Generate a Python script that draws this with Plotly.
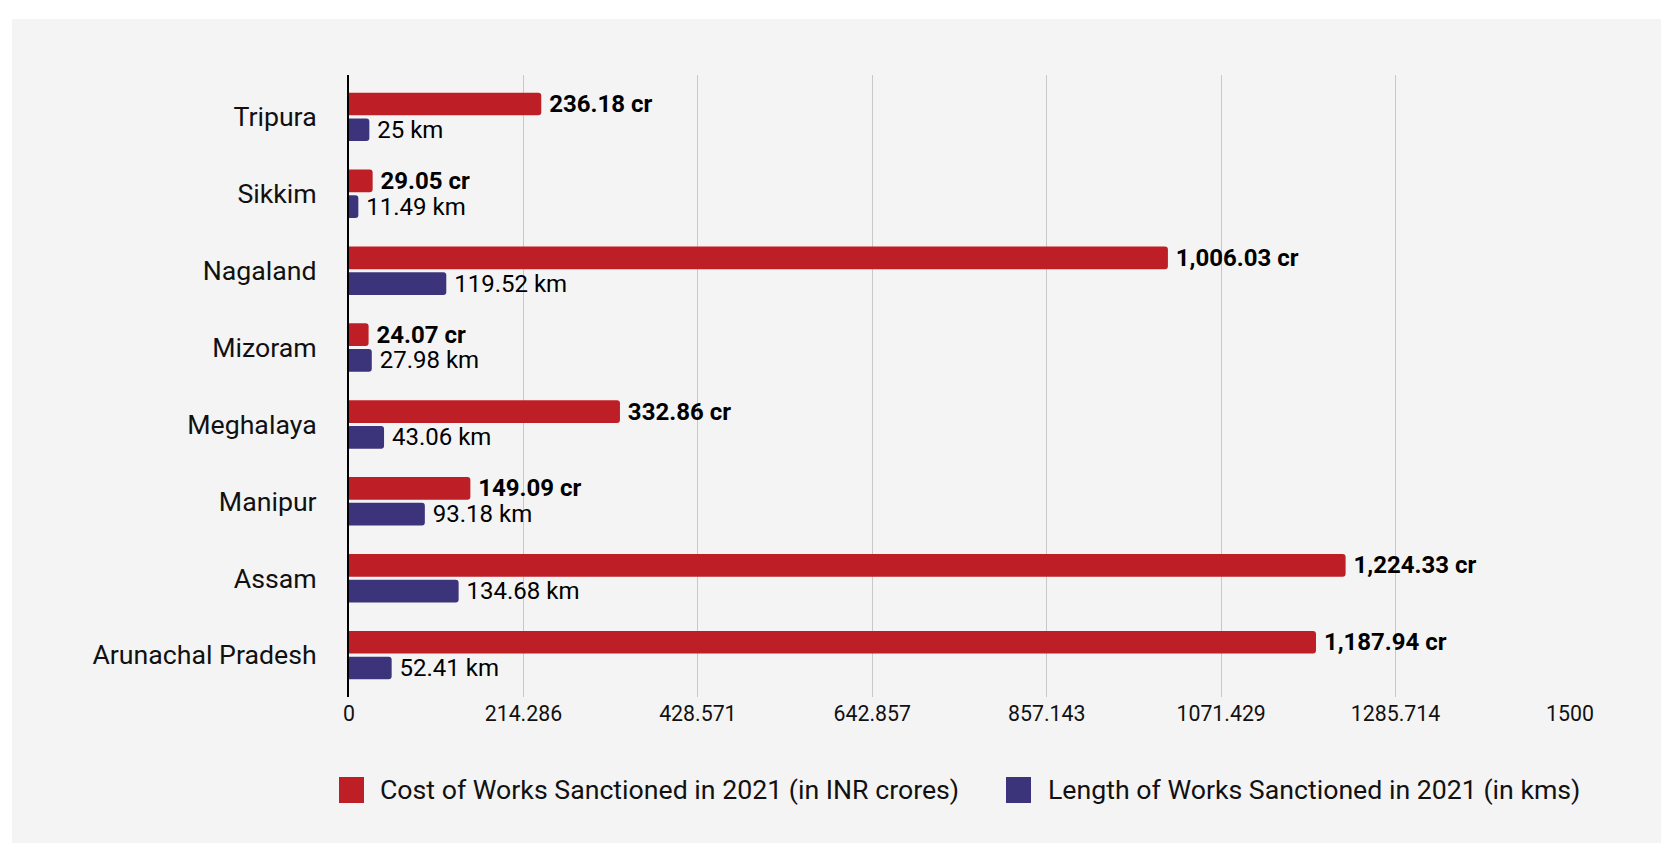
import plotly.graph_objects as go

states = ["Tripura", "Sikkim", "Nagaland", "Mizoram", "Meghalaya", "Manipur", "Assam", "Arunachal Pradesh"]
cost_cr = [236.18, 29.05, 1006.03, 24.07, 332.86, 149.09, 1224.33, 1187.94]
length_km = [25, 11.49, 119.52, 27.98, 43.06, 93.18, 134.68, 52.41]
x_tickvals = [0, 214.286, 428.571, 642.857, 857.143, 1071.429, 1285.714, 1500]
x_ticktext = ["0", "214.286", "428.571", "642.857", "857.143", "1071.429", "1285.714", "1500"]
series_names = ["Cost of Works Sanctioned in 2021 (in INR crores)",
                "Length of Works Sanctioned in 2021 (in kms)"]

RED = "#BE1E26"
BLUE = "#3C347B"
PANEL = "#F4F4F4"
FONT = "Roboto"

OFF = 8  # page body margin
W, H = 1669 - OFF, 843 - OFF
# plot area in page pixels: x 349..1570, y 75..697
L = 349 - OFF
R = W - (1570 - OFF)
T = 75 - OFF
B = H - (697 - OFF)
pw, ph = W - L - R, H - T - B


def px_x(p):  # page pixel -> paper x
    return (p - OFF - L) / pw


def px_y(p):  # page pixel -> paper y
    return (H - B - (p - OFF)) / ph


cost_text = [f"\u2009<b>{v:,.2f} cr</b>" for v in cost_cr]
len_text = [f"\u2009{v:g} km" for v in length_km]

fig = go.Figure()
fig.add_trace(go.Bar(
    y=states, x=cost_cr, orientation="h", name=series_names[0],
    marker=dict(color=RED, line=dict(width=0)),
    text=cost_text, textposition="outside", constraintext="none",
    textfont=dict(family=FONT, size=24, color="#000000"),
    cliponaxis=False, showlegend=False, hoverinfo="x+y",
))
fig.add_trace(go.Bar(
    y=states, x=length_km, orientation="h", name=series_names[1],
    marker=dict(color=BLUE, line=dict(width=0)),
    text=len_text, textposition="outside", constraintext="none",
    textfont=dict(family=FONT, size=24, color="#000000"),
    cliponaxis=False, showlegend=False, hoverinfo="x+y",
))

shapes = [
    dict(type="rect", xref="paper", yref="paper", layer="below",
         x0=px_x(12), x1=px_x(1669 + 20), y0=px_y(19), y1=px_y(843 + 20),
         fillcolor=PANEL, line=dict(width=0)),
]
annotations = []
legend_items = [(339, 378, RED, series_names[0]), (1006, 1046, BLUE, series_names[1])]
for sx, tx, col, name in legend_items:
    shapes.append(dict(type="rect", xref="paper", yref="paper",
                       x0=px_x(sx), x1=px_x(sx + 25), y0=px_y(803), y1=px_y(777),
                       fillcolor=col, line=dict(width=0)))
    annotations.append(dict(xref="paper", yref="paper", x=px_x(tx), y=px_y(790),
                            xanchor="left", yanchor="middle", showarrow=False,
                            text=name, font=dict(family=FONT, size=26.7, color="#111111")))

fig.update_layout(
    width=W, height=H,
    margin=dict(l=L, r=R, t=T, b=B, pad=0),
    paper_bgcolor="#FFFFFF", plot_bgcolor=PANEL,
    font=dict(family=FONT, color="#111111"),
    barmode="group", bargap=0.33, bargroupgap=0.12, barcornerradius=3,
    showlegend=False,
    shapes=shapes, annotations=annotations,
    xaxis=dict(range=[0, 1500], tickvals=x_tickvals, ticktext=x_ticktext,
               showgrid=True, gridcolor="#C8C8C8", gridwidth=1,
               zeroline=False, showline=False, ticks="",
               ticklabelstandoff=2,
               tickfont=dict(family=FONT, size=21.3, color="#111111")),
    yaxis=dict(type="category", range=[7.545, -0.545],
               showgrid=False, zeroline=False,
               showline=True, linecolor="#000000", linewidth=2,
               ticks="", ticklabelstandoff=25,
               tickfont=dict(family=FONT, size=26.7, color="#111111")),
)

fig.write_html("out.html")
